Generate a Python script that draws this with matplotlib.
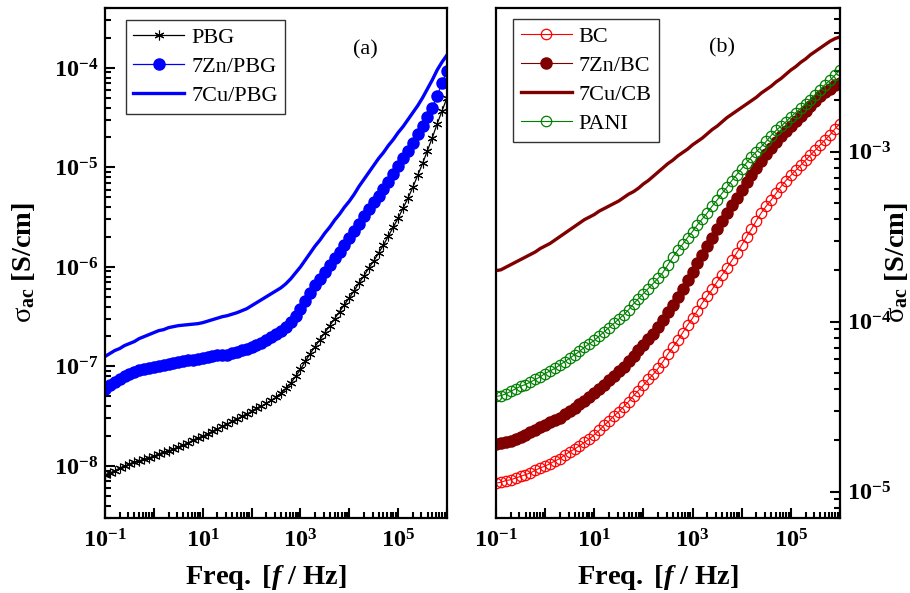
import numpy as np
import matplotlib
matplotlib.use('Agg')
import matplotlib.pyplot as plt
from matplotlib.ticker import LogLocator, FuncFormatter, NullFormatter

plt.rcParams['font.family'] = ['Liberation Serif', 'DejaVu Serif']
plt.rcParams['mathtext.fontset'] = 'custom'
plt.rcParams['mathtext.rm'] = 'Liberation Serif'
plt.rcParams['mathtext.bf'] = 'Liberation Serif:bold'
plt.rcParams['mathtext.it'] = 'Liberation Serif:italic'
plt.rcParams['mathtext.bfit'] = 'Liberation Serif:bold:italic'

# frequency grid: 10 points per decade, 0.1 Hz .. 1 MHz
log_freq = np.round(np.arange(-1.0, 6.05, 0.1), 1)
freq = 10.0 ** log_freq

# log10 of sigma_ac [S/cm], panel (a)
log_pbg = [
    -8.09, -8.07, -8.05, -8.02, -8.00, -7.98, -7.96, -7.95, -7.93, -7.92,
    -7.90, -7.88, -7.86, -7.85, -7.83, -7.81, -7.79, -7.77, -7.74, -7.72,
    -7.70, -7.68, -7.65, -7.63, -7.60, -7.58, -7.55, -7.53, -7.50, -7.48,
    -7.45, -7.42, -7.40, -7.37, -7.34, -7.31, -7.27, -7.22, -7.17, -7.10,
    -7.03, -6.95, -6.87, -6.80, -6.73, -6.66, -6.59, -6.52, -6.45, -6.38,
    -6.31, -6.24, -6.16, -6.09, -6.01, -5.94, -5.86, -5.78, -5.69, -5.60,
    -5.51, -5.41, -5.31, -5.20, -5.08, -4.96, -4.83, -4.70, -4.56, -4.43,
    -4.30]
log_zn_pbg = [
    -7.23, -7.19, -7.16, -7.13, -7.10, -7.08, -7.06, -7.04, -7.03, -7.02,
    -7.01, -7.00, -6.99, -6.98, -6.97, -6.96, -6.95, -6.94, -6.94, -6.93,
    -6.92, -6.91, -6.90, -6.89, -6.89, -6.88, -6.86, -6.85, -6.83, -6.82,
    -6.80, -6.78, -6.76, -6.73, -6.70, -6.67, -6.64, -6.60, -6.55, -6.49,
    -6.42, -6.34, -6.26, -6.18, -6.12, -6.05, -5.98, -5.91, -5.85, -5.78,
    -5.71, -5.64, -5.57, -5.49, -5.42, -5.35, -5.29, -5.22, -5.15, -5.07,
    -4.99, -4.91, -4.83, -4.75, -4.66, -4.58, -4.49, -4.40, -4.28, -4.15,
    -4.03]
log_cu_pbg = [
    -6.90, -6.87, -6.84, -6.82, -6.79, -6.77, -6.75, -6.72, -6.70, -6.68,
    -6.66, -6.64, -6.63, -6.61, -6.60, -6.59, -6.585, -6.58, -6.575, -6.57,
    -6.56, -6.545, -6.53, -6.515, -6.50, -6.49, -6.475, -6.46, -6.44, -6.42,
    -6.39, -6.36, -6.33, -6.30, -6.27, -6.24, -6.21, -6.17, -6.12, -6.06,
    -6.00, -5.93, -5.86, -5.79, -5.73, -5.66, -5.60, -5.53, -5.47, -5.40,
    -5.34, -5.27, -5.19, -5.12, -5.05, -4.98, -4.91, -4.85, -4.78, -4.72,
    -4.65, -4.59, -4.52, -4.45, -4.38, -4.30, -4.21, -4.12, -4.02, -3.94,
    -3.87]

# log10 of sigma_ac [S/cm], panel (b)
log_bc = [
    -4.95, -4.945, -4.935, -4.93, -4.92, -4.91, -4.90, -4.89, -4.875, -4.86,
    -4.85, -4.835, -4.82, -4.805, -4.785, -4.765, -4.75, -4.73, -4.71, -4.69,
    -4.665, -4.64, -4.61, -4.585, -4.555, -4.53, -4.50, -4.47, -4.435, -4.405,
    -4.375, -4.34, -4.31, -4.275, -4.235, -4.19, -4.15, -4.11, -4.065, -4.02,
    -3.98, -3.935, -3.89, -3.85, -3.81, -3.765, -3.725, -3.685, -3.64, -3.595,
    -3.55, -3.50, -3.455, -3.405, -3.36, -3.32, -3.285, -3.245, -3.205, -3.17,
    -3.14, -3.11, -3.08, -3.05, -3.02, -2.99, -2.96, -2.93, -2.90, -2.865,
    -2.835]
log_zn_bc = [
    -4.72, -4.715, -4.71, -4.70, -4.69, -4.68, -4.665, -4.65, -4.635, -4.62,
    -4.605, -4.59, -4.58, -4.565, -4.545, -4.525, -4.505, -4.485, -4.465, -4.445,
    -4.42, -4.395, -4.37, -4.345, -4.32, -4.29, -4.265, -4.23, -4.20, -4.165,
    -4.135, -4.10, -4.07, -4.03, -3.99, -3.945, -3.90, -3.855, -3.805, -3.755,
    -3.705, -3.655, -3.605, -3.555, -3.505, -3.455, -3.405, -3.36, -3.315, -3.27,
    -3.225, -3.18, -3.135, -3.095, -3.055, -3.015, -2.98, -2.945, -2.91, -2.88,
    -2.85, -2.82, -2.79, -2.76, -2.73, -2.70, -2.675, -2.65, -2.63, -2.61,
    -2.595]
log_cu_cb = [
    -3.70, -3.695, -3.68, -3.665, -3.65, -3.635, -3.62, -3.605, -3.59, -3.57,
    -3.555, -3.54, -3.52, -3.50, -3.48, -3.46, -3.44, -3.42, -3.40, -3.385,
    -3.37, -3.35, -3.335, -3.32, -3.305, -3.29, -3.27, -3.25, -3.235, -3.215,
    -3.19, -3.17, -3.145, -3.12, -3.095, -3.07, -3.05, -3.025, -3.005, -2.985,
    -2.96, -2.94, -2.92, -2.895, -2.87, -2.85, -2.825, -2.80, -2.78, -2.76,
    -2.74, -2.72, -2.70, -2.68, -2.655, -2.635, -2.615, -2.59, -2.57, -2.545,
    -2.52, -2.50, -2.475, -2.455, -2.43, -2.41, -2.39, -2.37, -2.35, -2.335,
    -2.325]
log_pani = [
    -4.44, -4.435, -4.425, -4.41, -4.395, -4.38, -4.37, -4.355, -4.34, -4.325,
    -4.305, -4.29, -4.275, -4.255, -4.235, -4.215, -4.195, -4.175, -4.15, -4.13,
    -4.11, -4.085, -4.06, -4.035, -4.01, -3.985, -3.96, -3.93, -3.895, -3.865,
    -3.835, -3.805, -3.775, -3.745, -3.71, -3.665, -3.62, -3.58, -3.545, -3.505,
    -3.47, -3.43, -3.395, -3.36, -3.32, -3.285, -3.245, -3.21, -3.17, -3.135,
    -3.10, -3.065, -3.03, -3.00, -2.97, -2.94, -2.905, -2.875, -2.85, -2.825,
    -2.795, -2.77, -2.745, -2.72, -2.695, -2.665, -2.635, -2.605, -2.58, -2.55,
    -2.52]


def sci_label(val, pos):
    '''bold 10^n tick label'''
    if val <= 0:
        return ''
    n = int(np.round(np.log10(val)))
    return r'$\mathbf{10^{%d}}$' % n


def odd_decades(val, pos):
    '''x axis: label only every second decade'''
    n = int(np.round(np.log10(val)))
    return sci_label(val, pos) if n % 2 != 0 else ''


def style_axis(ax, side='left'):
    ax.set_xscale('log')
    ax.set_yscale('log')
    ax.set_xlim(0.1, 1e6)
    for sp in ax.spines.values():
        sp.set_linewidth(1.6)
    ax.xaxis.set_major_locator(LogLocator(base=10, numticks=20))
    ax.xaxis.set_minor_locator(LogLocator(base=10, subs=np.arange(2, 10), numticks=20))
    ax.xaxis.set_major_formatter(FuncFormatter(odd_decades))
    ax.xaxis.set_minor_formatter(NullFormatter())
    ax.yaxis.set_major_locator(LogLocator(base=10, numticks=20))
    ax.yaxis.set_minor_locator(LogLocator(base=10, subs=np.arange(2, 10), numticks=20))
    ax.yaxis.set_major_formatter(FuncFormatter(sci_label))
    ax.yaxis.set_minor_formatter(NullFormatter())
    ax.tick_params(which='both', direction='in', width=1.5, labelsize=17.5,
                   top=False, right=(side == 'right'), left=(side == 'left'),
                   labelleft=(side == 'left'), labelright=(side == 'right'))
    ax.tick_params(which='major', length=7)
    ax.tick_params(which='minor', length=4)
    ax.tick_params(axis='x', which='major', pad=8)
    ax.tick_params(axis='y', which='major', pad=5)
    ax.set_xlabel(r'$\mathbf{Freq.\ [}\mathbfit{f}\mathbf{\ /\ Hz]}$', fontsize=20.5)
    ax.xaxis.set_label_coords(0.47, -0.088)
    ax.set_ylabel(r'$\mathrm{\sigma}_{\mathbf{ac}}\ \mathbf{[S/cm]}$', fontsize=20.5)


def style_legend(leg):
    leg.get_frame().set_edgecolor('#333333')
    leg.get_frame().set_linewidth(1.0)


fig = plt.figure(figsize=(9.1, 5.93), dpi=100)
ax1 = fig.add_axes([0.1154, 0.1265, 0.3758, 0.860])
ax2 = fig.add_axes([0.545, 0.1265, 0.378, 0.860])

# panel (a)
ax1.plot(freq, 10.0 ** np.array(log_pbg), color='black', lw=0.9,
         marker=(6, 2, 0), ms=7, mew=0.8, label='PBG')
ax1.plot(freq, 10.0 ** np.array(log_zn_pbg), color='#0000ff', lw=0.9,
         marker='o', ms=8, mec='#0000ff', mfc='#0000ff', label='7Zn/PBG')
ax1.plot(freq, 10.0 ** np.array(log_cu_pbg), color='#0000ff', lw=2.4,
         label='7Cu/PBG')
style_axis(ax1, 'left')
ax1.set_ylim(3e-9, 4e-4)
ax1.yaxis.set_label_coords(-0.2, 0.5)
ax1.text(0.76, 0.918, '(a)', transform=ax1.transAxes, fontsize=16,
         ha='center', va='center')
leg1 = ax1.legend(loc='upper left', bbox_to_anchor=(0.06, 0.977), fontsize=16,
                  numpoints=1, handlelength=2.3, handletextpad=0.3,
                  borderpad=0.35, labelspacing=0.38, fancybox=False,
                  framealpha=1, borderaxespad=0)
style_legend(leg1)

# panel (b)
ax2.plot(freq, 10.0 ** np.array(log_bc), color='#ff0000', lw=0.8,
         marker='o', ms=7.5, mfc='none', mec='#ff0000', mew=0.9, label='BC')
ax2.plot(freq, 10.0 ** np.array(log_zn_bc), color='#800000', lw=0.8,
         marker='o', ms=8, mfc='#800000', mec='#800000', label='7Zn/BC')
ax2.plot(freq, 10.0 ** np.array(log_cu_cb), color='#800000', lw=2.4,
         label='7Cu/CB')
ax2.plot(freq, 10.0 ** np.array(log_pani), color='#008000', lw=0.8,
         marker='o', ms=7.5, mfc='none', mec='#008000', mew=0.9, label='PANI')
style_axis(ax2, 'right')
ax2.set_ylim(7e-6, 7e-3)
ax2.yaxis.set_label_position('right')
ax2.yaxis.set_label_coords(1.125, 0.5)
ax2.text(0.657, 0.922, '(b)', transform=ax2.transAxes, fontsize=16,
         ha='center', va='center')
leg2 = ax2.legend(loc='upper left', bbox_to_anchor=(0.05, 0.979), fontsize=16,
                  numpoints=1, handlelength=2.3, handletextpad=0.3,
                  borderpad=0.35, labelspacing=0.38, fancybox=False,
                  framealpha=1, borderaxespad=0)
style_legend(leg2)

fig.savefig('out.png', dpi=100)
